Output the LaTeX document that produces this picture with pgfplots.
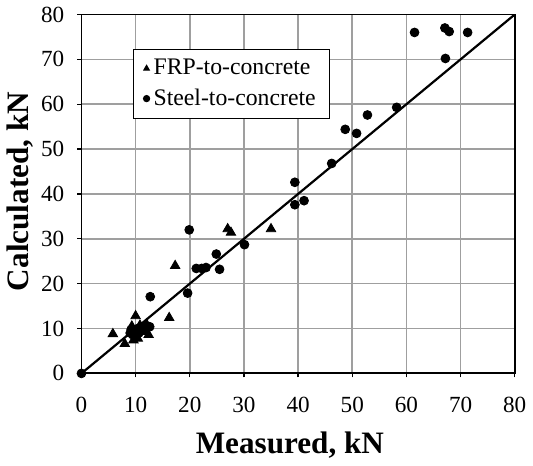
\documentclass[border=0pt]{standalone}
\usepackage{pgfplots}
\pgfplotsset{compat=1.18}
\usepackage{fontspec}
\setmainfont{Liberation Serif}
\begin{document}
\begin{tikzpicture}
\begin{axis}[
  scale only axis,
  width=215.5pt, height=178.5pt,
  xmin=0, xmax=80, ymin=0, ymax=80,
  xtick={0,10,...,80}, ytick={0,10,...,80},
  grid=major,
  major grid style={draw=gray!75, line width=0.8pt},
  axis line style={black, line width=0.9pt},
  tick align=outside,
  major tick length=2pt,
  tick style={black, line width=0.6pt},
  xtick pos=bottom, ytick pos=left,
  /pgf/number format/assume math mode=true,
  ticklabel style={font=\fontsize{11.5}{13}\selectfont},
  xticklabel style={yshift=-6.5pt},
  yticklabel style={xshift=-3pt},
  xlabel={\textbf{Measured, kN}},
  ylabel={\textbf{Calculated, kN}},
  label style={font=\fontsize{15.5}{17}\selectfont},
  xlabel style={at={(axis description cs:0.481,-0.2)}, anchor=center},
  ylabel style={at={(axis description cs:-0.142,0.507)}, anchor=center},
  legend style={at={(axis cs:9.5,72.4)}, anchor=north west, draw=black, line width=0.6pt,
    font=\fontsize{11.8}{13}\selectfont, row sep=1.5pt, inner xsep=5pt, inner ysep=3pt},
  legend cell align=left,
  legend image post style={mark size=1.5pt},
]
\addplot[only marks, mark=triangle*, mark size=2.7pt, black] coordinates {
  (5.8,8.8) (8.0,6.6) (10.0,12.8) (16.2,12.4) (17.3,24.0) (27.0,32.2) (27.6,31.4) (35.0,32.2)
  (9.3,10.5) (10.8,10.7) (11.9,9.3) (12.4,8.6) (10.4,7.8) (9.6,7.4) (12.0,11.0)
};
\addlegendentry{FRP-to-concrete}
\addplot[only marks, mark=*, mark size=2.2pt, black] coordinates {
  (0,0)
  (9.0,9.0) (9.5,8.6) (9.8,9.6) (10.0,8.2) (10.4,10.0) (10.6,9.0) (11.2,9.6) (11.6,10.3) (12.6,10.4) (9.2,9.8)
  (12.7,17.1) (19.6,17.9) (19.9,32.0) (21.2,23.4) (22.2,23.4) (23.0,23.6) (24.9,26.6) (25.5,23.2)
  (30.1,28.7) (39.4,42.6) (39.4,37.6) (41.1,38.5) (46.2,46.8) (48.7,54.4) (50.8,53.5) (52.8,57.6)
  (58.2,59.3) (61.5,76.0) (67.1,77.0) (67.9,76.2) (71.3,76.0) (67.2,70.2)
};
\addlegendentry{Steel-to-concrete}
\addplot[black, line width=1.1pt, forget plot] coordinates {(0,0) (80,80)};
\end{axis}
\end{tikzpicture}
\end{document}
